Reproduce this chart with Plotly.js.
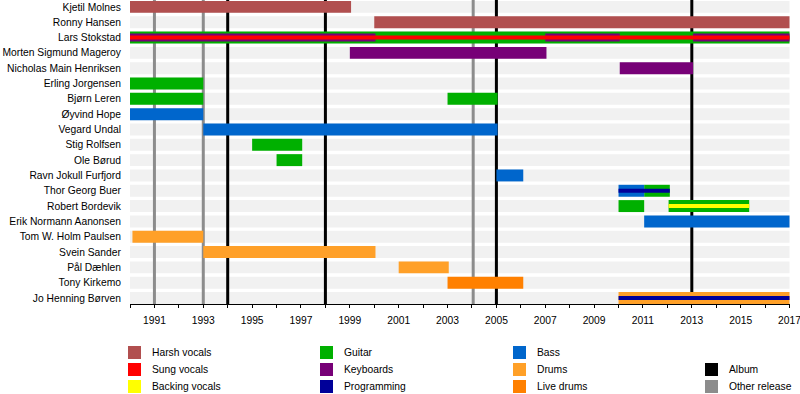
<!DOCTYPE html>
<html>
<head>
<meta charset="utf-8">
<script src="https://cdn.plot.ly/plotly-3.0.1.min.js"></script>
<style>html,body{margin:0;padding:0;background:#fff}#chart{width:800px;height:394px}</style>
</head>
<body>
<div id="chart"></div>
<script>
// ---------- data ----------
const members = ["Kjetil Molnes","Ronny Hansen","Lars Stokstad","Morten Sigmund Mageroy","Nicholas Main Henriksen","Erling Jorgensen","Bjørn Leren","Øyvind Hope","Vegard Undal","Stig Rolfsen","Ole Børud","Ravn Jokull Furfjord","Thor Georg Buer","Robert Bordevik","Erik Normann Aanonsen","Tom W. Holm Paulsen","Svein Sander","Pål Dæhlen","Tony Kirkemo","Jo Henning Børven"];

const harshMembers = ["Kjetil Molnes","Ronny Hansen"];
const harshStart = [1990, 2000];
const harshEnd = [1999.05, 2017];

const guitarMembers = ["Lars Stokstad","Erling Jorgensen","Bjørn Leren","Bjørn Leren","Stig Rolfsen","Ole Børud","Thor Georg Buer","Robert Bordevik","Robert Bordevik"];
const guitarStart = [1990, 1990, 1990, 2003, 1995, 1996, 2011.05, 2010, 2012.05];
const guitarEnd = [2017, 1993, 1993, 2005.05, 1997.05, 1997.05, 2012.1, 2011.05, 2015.35];

const bassMembers = ["Øyvind Hope","Vegard Undal","Ravn Jokull Furfjord","Thor Georg Buer","Erik Normann Aanonsen"];
const bassStart = [1990, 1993, 2005, 2010, 2011.05];
const bassEnd = [1993, 2005.05, 2006.1, 2011.05, 2017];

const drumsMembers = ["Tom W. Holm Paulsen","Svein Sander","Pål Dæhlen","Jo Henning Børven"];
const drumsStart = [1990.1, 1993, 2001, 2010];
const drumsEnd = [1993, 2000.05, 2003.05, 2017];

const liveDrumsMembers = ["Tony Kirkemo"];
const liveDrumsStart = [2003];
const liveDrumsEnd = [2006.1];

const keyboardsMembers = ["Morten Sigmund Mageroy","Nicholas Main Henriksen"];
const keyboardsStart = [1999, 2010.05];
const keyboardsEnd = [2007.05, 2013.05];

const keyboardsSideMembers = ["Lars Stokstad","Lars Stokstad","Lars Stokstad"];
const keyboardsSideStart = [1990, 2007, 2013.05];
const keyboardsSideEnd = [2000.05, 2010.05, 2017];

const sungMembers = ["Lars Stokstad"];
const sungStart = [1990];
const sungEnd = [2017];

const programmingMembers = ["Thor Georg Buer","Jo Henning Børven"];
const programmingStart = [2010, 2010];
const programmingEnd = [2012.1, 2017];

const backingMembers = ["Robert Bordevik"];
const backingStart = [2012.05];
const backingEnd = [2015.35];

const albumYears = [1994, 1998, 2005, 2013];
const otherReleaseYears = [1991, 1993, 2004.05];

const tickYears = [1991,1993,1995,1997,1999,2001,2003,2005,2007,2009,2011,2013,2015,2017];

const legendColumns = [
  ["Harsh vocals","Sung vocals","Backing vocals"],
  ["Guitar","Keyboards","Programming"],
  ["Bass","Drums","Live drums"],
  [null,"Album","Other release"]
];

// ---------- styles ----------
const C = {
  "Harsh vocals":"#b14f4f","Sung vocals":"#ff0000","Backing vocals":"#ffff00",
  "Guitar":"#00b000","Keyboards":"#770077","Programming":"#000099",
  "Bass":"#0066cc","Drums":"#ffa028","Live drums":"#ff8000",
  "Album":"#000000","Other release":"#8c8c8c"
};
const FULL = 0.78, MID = 0.52, THIN = 0.26;
const FONT = {family:"Liberation Sans, Arial, sans-serif", size:10.3, color:"#000"};

function barTrace(role, ys, s, e, w){
  return {
    type:"bar", orientation:"h", y:ys, base:s,
    x:s.map((v,i)=>e[i]-v),
    width:ys.map(()=>w),
    marker:{color:C[role], line:{width:0}},
    hoverinfo:"skip", showlegend:false, name:role
  };
}

const traces = [
  barTrace("Harsh vocals", harshMembers, harshStart, harshEnd, FULL),
  barTrace("Guitar", guitarMembers, guitarStart, guitarEnd, FULL),
  barTrace("Bass", bassMembers, bassStart, bassEnd, FULL),
  barTrace("Drums", drumsMembers, drumsStart, drumsEnd, FULL),
  barTrace("Live drums", liveDrumsMembers, liveDrumsStart, liveDrumsEnd, FULL),
  barTrace("Keyboards", keyboardsMembers, keyboardsStart, keyboardsEnd, FULL),
  barTrace("Keyboards", keyboardsSideMembers, keyboardsSideStart, keyboardsSideEnd, MID),
  barTrace("Sung vocals", sungMembers, sungStart, sungEnd, THIN),
  barTrace("Programming", programmingMembers, programmingStart, programmingEnd, THIN),
  barTrace("Backing vocals", backingMembers, backingStart, backingEnd, THIN)
];

// plot geometry (pixels)
const ML = 130, MR = 10, MT = 0, MB = 90, W = 800, H = 394;
const PW = W - ML - MR, PH = H - MT - MB;
const px2x = p => (p - ML) / PW;
const py2y = p => (H - MB - p) / PH;
const N = members.length;
const Y_TOP = -0.45, Y_BOTTOM = N - 1 + FULL / 2;

const shapes = [];
// background stripes
members.forEach((m, i) => {
  shapes.push({type:"rect", layer:"below", xref:"x", yref:"y",
    x0:1990, x1:2017, y0:i-FULL/2, y1:i+FULL/2,
    fillcolor:"#f1f1f1", line:{width:0}});
});
// release lines (axis-referenced so they stack above the stripes)
otherReleaseYears.forEach(yr => shapes.push({type:"line", layer:"below", xref:"x", yref:"y",
  x0:yr, x1:yr, y0:Y_TOP, y1:Y_BOTTOM, line:{color:C["Other release"], width:3}}));
albumYears.forEach(yr => shapes.push({type:"line", layer:"below", xref:"x", yref:"y",
  x0:yr, x1:yr, y0:Y_TOP, y1:Y_BOTTOM, line:{color:C["Album"], width:3}}));

// legend
const annotations = [];
const colX = [128, 320, 513, 705];
const rowY = [352.5, 369.5, 386.5];
legendColumns.forEach((col, ci) => {
  col.forEach((label, ri) => {
    if (!label) return;
    const x = colX[ci], y = rowY[ri];
    shapes.push({type:"rect", xref:"paper", yref:"paper",
      x0:px2x(x), x1:px2x(x+13), y0:py2y(y-6.5), y1:py2y(y+6.5),
      fillcolor:C[label], line:{width:0}});
    annotations.push({xref:"paper", yref:"paper", x:px2x(x+22), y:py2y(y),
      xanchor:"left", yanchor:"middle", text:label, showarrow:false, font:FONT});
  });
});

const layout = {
  width:W, height:H,
  margin:{l:ML, r:MR, t:MT, b:MB, pad:0},
  paper_bgcolor:"#fff", plot_bgcolor:"#fff",
  barmode:"overlay", showlegend:false,
  font:FONT,
  xaxis:{range:[1990, 2017.02], tickmode:"array", tickvals:tickYears, ticktext:tickYears.map(String),
    ticks:"outside", ticklen:3, tickcolor:"#000", tickwidth:1,
    minor:{tickmode:"linear", tick0:1990, dtick:1, ticks:"outside", ticklen:3, tickcolor:"#000", tickwidth:1},
    showline:true, linecolor:"#000", linewidth:1, showgrid:false, zeroline:false,
    tickfont:FONT, ticklabelstandoff:4, ticklabeloverflow:"allow", fixedrange:true},
  yaxis:{type:"category", categoryorder:"array", categoryarray:members,
    range:[Y_BOTTOM, Y_TOP],
    ticks:"outside", ticklen:6, tickcolor:"rgba(0,0,0,0)",
    showline:false, showgrid:false, zeroline:false, tickfont:FONT, fixedrange:true},
  shapes:shapes, annotations:annotations
};

Plotly.newPlot("chart", traces, layout, {staticPlot:true, displayModeBar:false});
</script>
</body>
</html>
